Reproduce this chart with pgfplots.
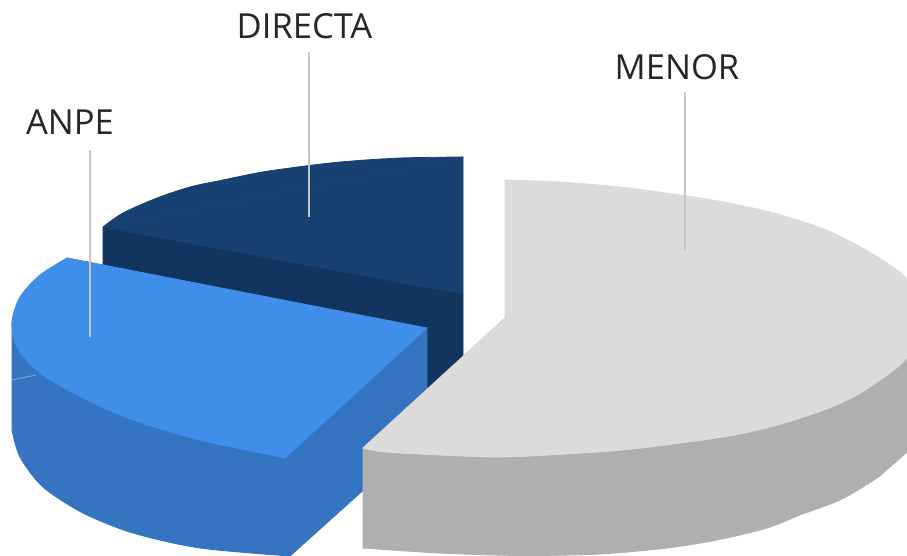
\documentclass[border=0pt]{standalone}
\usepackage{pgfplots}
\pgfplotsset{compat=1.18}
\usepackage{fontspec}
\setmainfont{Open Sans}
\definecolor{dtop}{HTML}{174170}
\definecolor{dside}{HTML}{12355F}
\definecolor{atop}{HTML}{3E8EEA}
\definecolor{aside}{HTML}{3574C0}
\definecolor{gtop}{HTML}{DBDBDB}
\definecolor{gside}{HTML}{AFAFAF}
\definecolor{lead}{HTML}{C6C6C6}
\begin{document}
\begin{tikzpicture}
\begin{axis}[scale only axis,width=907pt,height=555pt,xmin=0,xmax=907,ymin=0,ymax=555,y dir=reverse,hide axis]
\addplot[fill=white,draw=none] coordinates {(0,0)(907,0)(907,555)(0,555)(0,0)};
% DIRECTA
\addplot[fill=dside,draw=dside,line width=0.8pt] coordinates {(103,227)(463,294)(463,400)(103,300)(103,227)};
\addplot[fill=dtop,draw=dtop,line width=0.8pt] coordinates {(103,227)(463,294)(463,157)(103,227)};
\addplot[fill=dtop,draw=dtop,line width=0.8pt,smooth] coordinates {(103,227)(123,213)(157,198)(190,187)(223,180)(257,173)(290,168)(340,162)(400,158)(463,157)};
% ANPE
\addplot[fill=aside,draw=aside,line width=0.8pt] coordinates {(12,322)(12,430)(290,556)(427,433)(427,329)(67,258)(12,322)};
\addplot[fill=aside,draw=aside,line width=0.8pt,smooth] coordinates {(12,430)(20,457)(43,487)(83,513)(133,533)(200,548)(290,556)};
\addplot[fill=atop,draw=atop,line width=0.8pt] coordinates {(67,258)(427,328)(285,458)(67,258)};
\addplot[fill=atop,draw=atop,line width=0.8pt,smooth] coordinates {(285,458)(200,440)(133,420)(83,398)(40,373)(17,347)(12,322)(20,297)(40,275)(67,258)};
% MENOR
\addplot[fill=gside,draw=gside,line width=0.8pt] coordinates {(363,448)(363,548)(907,452)(907,355)(505,318)(363,448)};
\addplot[fill=gside,draw=gside,line width=0.8pt,smooth] coordinates {(363,548)(439,553)(520,555.5)(600,554)(667,548)(717,540)(767,528)(800,515)(840,500)(874,480)(890,467)(907,452)};
\addplot[fill=gtop,draw=gtop,line width=0.8pt] coordinates {(363,448)(505,318)(505,180)(925,320)(363,448)};
\addplot[fill=gtop,draw=gtop,line width=0.8pt,smooth] coordinates {(505,180)(560,182)(620,187)(680,195)(724,202)(774,213)(824,229)(857,245)(890,265)(907,280)(925,320)};
\addplot[fill=gtop,draw=gtop,line width=0.8pt,smooth] coordinates {(925,320)(907,357)(890,373)(857,395)(824,410)(774,426)(723,437)(633,449)(567,454)(500,457)(439,455)(385,452)(363,448)};
% leader lines
\addplot[lead,line width=1.3pt] coordinates {(90,150)(90,337)};
\addplot[lead,line width=1.3pt] coordinates {(309,52)(309,217)};
\addplot[lead,line width=1.3pt] coordinates {(685,92)(685,250)};
\addplot[color=aside!70!white,line width=1pt] coordinates {(12,380)(36,375)};
% labels
\node[text=black!85,font=\fontsize{34.5}{40}\selectfont,inner sep=0pt] at (axis cs:304.5,26) {DIRECTA};
\node[text=black!85,font=\fontsize{34.5}{40}\selectfont,inner sep=0pt] at (axis cs:70,122) {ANPE};
\node[text=black!85,font=\fontsize{34.5}{40}\selectfont,inner sep=0pt] at (axis cs:677,67) {MENOR};
\end{axis}
\end{tikzpicture}
\end{document}
